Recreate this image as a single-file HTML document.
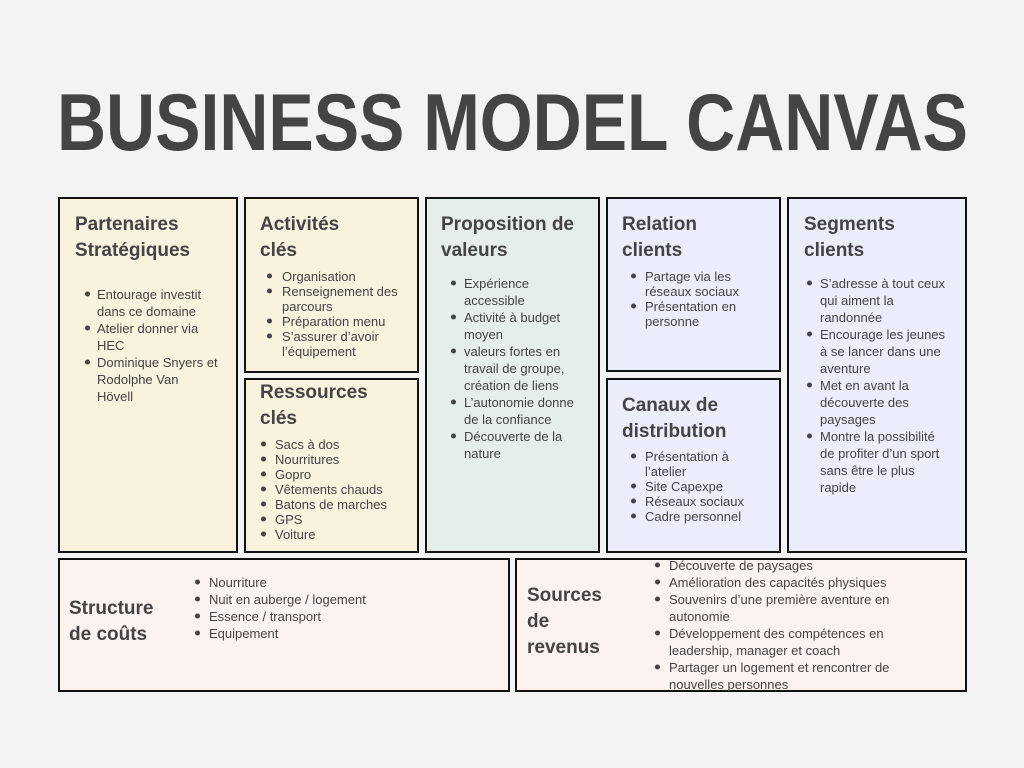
<!DOCTYPE html>
<html><head><meta charset="utf-8"><style>
body{margin:0;width:1024px;height:768px;background:#f3f3f3;position:relative;overflow:hidden;font-family:"Liberation Sans",sans-serif;color:#444}
.b{position:absolute;border:2px solid #111;box-sizing:border-box}
.y{background:#f8f2de}.g{background:#e6eee9}.v{background:#ebedfb}.p{background:#fcf3f1}
.h{position:absolute;font-weight:bold;font-size:19px;line-height:26px;color:#444;white-space:nowrap}
ul{position:absolute;margin:0;padding:0;list-style:none;font-size:13px;white-space:nowrap;color:#444}
li{position:relative;padding-left:12px}
li::before{content:"";position:absolute;left:0;top:calc(0.5em + 1px);width:5px;height:5px;border-radius:50%;background:#444;transform:translateY(-50%)}
.l17{line-height:17px}.l17 li::before{top:8px}
.l15{line-height:15px}.l15 li::before{top:7px}
</style></head><body>
<svg style="position:absolute;left:0;top:0" width="1024" height="170"><text x="57" y="150" textLength="911" lengthAdjust="spacingAndGlyphs" font-family="Liberation Sans" font-weight="bold" font-size="81" fill="#444">BUSINESS MODEL CANVAS</text></svg>

<div class="b y" style="left:58px;top:197px;width:180px;height:356px"></div>
<div class="b y" style="left:244px;top:197px;width:175px;height:176px"></div>
<div class="b y" style="left:244px;top:378px;width:175px;height:175px"></div>
<div class="b g" style="left:425px;top:197px;width:175px;height:356px"></div>
<div class="b v" style="left:606px;top:197px;width:175px;height:175px"></div>
<div class="b v" style="left:606px;top:378px;width:175px;height:175px"></div>
<div class="b v" style="left:787px;top:197px;width:180px;height:356px"></div>
<div class="b p" style="left:58px;top:558px;width:452px;height:134px"></div>
<div class="b p" style="left:515px;top:558px;width:452px;height:134px"></div>

<div class="h" style="left:75px;top:212px">Partenaires<br>Stratégiques</div>
<ul class="l17" style="left:85px;top:286px"><li>Entourage investit<br>dans ce domaine</li><li>Atelier donner via<br>HEC</li><li>Dominique Snyers et<br>Rodolphe Van<br>Hövell</li></ul>

<div class="h" style="left:260px;top:212px">Activités<br>clés</div>
<ul class="l15" style="left:267px;top:269px"><li style="padding-left:15px">Organisation</li><li style="padding-left:15px">Renseignement des<br>parcours</li><li style="padding-left:15px">Préparation menu</li><li style="padding-left:15px">S’assurer d’avoir<br>l’équipement</li></ul>

<div class="h" style="left:260px;top:380px">Ressources<br>clés</div>
<ul class="l15" style="left:261px;top:437px"><li style="padding-left:14px">Sacs à dos</li><li style="padding-left:14px">Nourritures</li><li style="padding-left:14px">Gopro</li><li style="padding-left:14px">Vêtements chauds</li><li style="padding-left:14px">Batons de marches</li><li style="padding-left:14px">GPS</li><li style="padding-left:14px">Voiture</li></ul>

<div class="h" style="left:441px;top:212px">Proposition de<br>valeurs</div>
<ul class="l17" style="left:451px;top:275px"><li style="padding-left:13px">Expérience<br>accessible</li><li style="padding-left:13px">Activité à budget<br>moyen</li><li style="padding-left:13px">valeurs fortes en<br>travail de groupe,<br>création de liens</li><li style="padding-left:13px">L’autonomie donne<br>de la confiance</li><li style="padding-left:13px">Découverte de la<br>nature</li></ul>

<div class="h" style="left:622px;top:212px">Relation<br>clients</div>
<ul class="l15" style="left:631px;top:269px"><li style="padding-left:14px">Partage via les<br>réseaux sociaux</li><li style="padding-left:14px">Présentation en<br>personne</li></ul>

<div class="h" style="left:622px;top:393px">Canaux de<br>distribution</div>
<ul class="l15" style="left:631px;top:449px"><li style="padding-left:14px">Présentation à<br>l’atelier</li><li style="padding-left:14px">Site Capexpe</li><li style="padding-left:14px">Réseaux sociaux</li><li style="padding-left:14px">Cadre personnel</li></ul>

<div class="h" style="left:804px;top:212px">Segments<br>clients</div>
<ul class="l17" style="left:807px;top:275px"><li style="padding-left:13px">S’adresse à tout ceux<br>qui aiment la<br>randonnée</li><li style="padding-left:13px">Encourage les jeunes<br>à se lancer dans une<br>aventure</li><li style="padding-left:13px">Met en avant la<br>découverte des<br>paysages</li><li style="padding-left:13px">Montre la possibilité<br>de profiter d’un sport<br>sans être le plus<br>rapide</li></ul>

<div class="h" style="left:69px;top:596px">Structure<br>de coûts</div>
<ul class="l17" style="left:195px;top:574px"><li style="padding-left:14px">Nourriture</li><li style="padding-left:14px">Nuit en auberge / logement</li><li style="padding-left:14px">Essence / transport</li><li style="padding-left:14px">Equipement</li></ul>

<div class="h" style="left:527px;top:583px">Sources<br>de<br>revenus</div>
<ul class="l17" style="left:655px;top:557px"><li style="padding-left:14px">Découverte de paysages</li><li style="padding-left:14px">Amélioration des capacités physiques</li><li style="padding-left:14px">Souvenirs d’une première aventure en<br>autonomie</li><li style="padding-left:14px">Développement des compétences en<br>leadership, manager et coach</li><li style="padding-left:14px">Partager un logement et rencontrer de<br>nouvelles personnes</li></ul>
</body></html>
